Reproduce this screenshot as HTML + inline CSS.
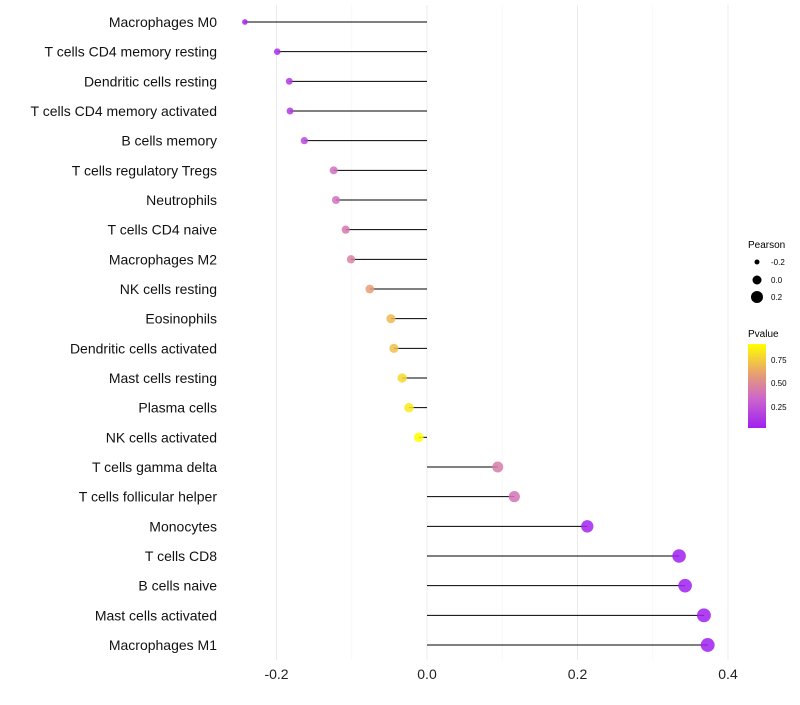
<!DOCTYPE html>
<html><head><meta charset="utf-8"><style>
body{margin:0;background:#fff;font-family:"Liberation Sans",sans-serif}
</style></head><body>
<svg id="chart" width="800" height="700" xmlns="http://www.w3.org/2000/svg" font-family="Liberation Sans, sans-serif">
<defs><linearGradient id="pg" x1="0" y1="1" x2="0" y2="0">
<stop offset="0" stop-color="#A020F0"/><stop offset="0.35" stop-color="#CC66CC"/><stop offset="0.65" stop-color="#E8A070"/><stop offset="1" stop-color="#FFFF00"/></linearGradient></defs>
<g id="grid"></g><g id="marks"></g><g id="ylabels"></g><g id="xticks"></g>
<g>
<text x="748" y="248" font-size="10">Pearson</text>
<circle cx="757" cy="262" r="2.5" fill="#000"/>
<text x="771" y="265" font-size="8">-0.2</text>
<circle cx="757" cy="280" r="4.5" fill="#000"/>
<text x="771" y="283" font-size="8">0.0</text>
<circle cx="757" cy="297" r="6" fill="#000"/>
<text x="771" y="300" font-size="8">0.2</text>
<text x="748" y="337" font-size="10">Pvalue</text>
<rect x="748" y="344" width="18" height="84" fill="url(#pg)"/>
<text x="771" y="363" font-size="8">0.75</text>
<text x="771" y="386" font-size="8">0.50</text>
<text x="771" y="410" font-size="8">0.25</text>
</g>
</svg>
<script>
const categories=["Macrophages M0","T cells CD4 memory resting","Dendritic cells resting","T cells CD4 memory activated","B cells memory","T cells regulatory  Tregs","Neutrophils","T cells CD4 naive","Macrophages M2","NK cells resting","Eosinophils","Dendritic cells activated","Mast cells resting","Plasma cells","NK cells activated","T cells gamma delta","T cells follicular helper","Monocytes","T cells CD8","B cells naive","Mast cells activated","Macrophages M1"];
const pearson=[-0.242,-0.199,-0.183,-0.182,-0.163,-0.124,-0.121,-0.108,-0.101,-0.076,-0.048,-0.044,-0.033,-0.024,-0.011,0.094,0.116,0.213,0.335,0.343,0.368,0.373];
const pvalues=[0.05,0.1,0.15,0.15,0.2,0.38,0.38,0.43,0.47,0.6,0.7,0.72,0.8,0.86,0.93,0.45,0.4,0.05,0.02,0.02,0.01,0.01];
const xTicks=[-0.2,0,0.2,0.4];
const xTickLabels=["-0.2","0.0","0.2","0.4"];
const xMinor=[-0.1,0.1,0.3];
const NS="http://www.w3.org/2000/svg";
const x=v=>427+v*752.5;
const y=i=>22+i*(623/21);
const r=v=>Math.sqrt(Math.max(2.5,24+66*v));
const stops=[[0,[160,32,240]],[0.35,[204,102,204]],[0.65,[232,160,112]],[1,[255,255,0]]];
function col(p){let t=Math.max(0,Math.min(1,(p-0.03)/0.9));for(let k=1;k<stops.length;k++){if(t<=stops[k][0]){const a=stops[k-1],b=stops[k],f=(t-a[0])/(b[0]-a[0]);return "rgb("+a[1].map((c,j)=>Math.round(c+(b[1][j]-c)*f)).join(",")+")";}}return "#ff0";}
function mk(tag,at,parent){const e=document.createElementNS(NS,tag);for(const k in at)e.setAttribute(k,at[k]);document.getElementById(parent).appendChild(e);return e;}
xMinor.forEach(v=>{const l=mk("line",{x1:x(v),x2:x(v),y1:5,y2:660,stroke:"#f4f4f4","stroke-width":0.6},"grid");

});
xTicks.forEach((v,i)=>{const l=mk("line",{x1:x(v),x2:x(v),y1:5,y2:660,stroke:"#ebebeb","stroke-width":1},"grid");


const t=mk("text",{x:x(v),y:679,"font-size":14,"text-anchor":"middle",fill:"#222"},"xticks");t.textContent=xTickLabels[i];

});
categories.forEach((c,i)=>{
const l=mk("line",{x1:x(0),x2:x(pearson[i]),y1:y(i),y2:y(i),stroke:"#000","stroke-width":1},"marks");


const d=mk("circle",{cx:x(pearson[i]),cy:y(i),r:r(pearson[i]),fill:col(pvalues[i]),"fill-opacity":0.85},"marks");


const t=mk("text",{x:217,y:y(i)+5,"font-size":14,"text-anchor":"end",fill:"#111"},"ylabels");t.textContent=c;


});
</script>
</body></html>
